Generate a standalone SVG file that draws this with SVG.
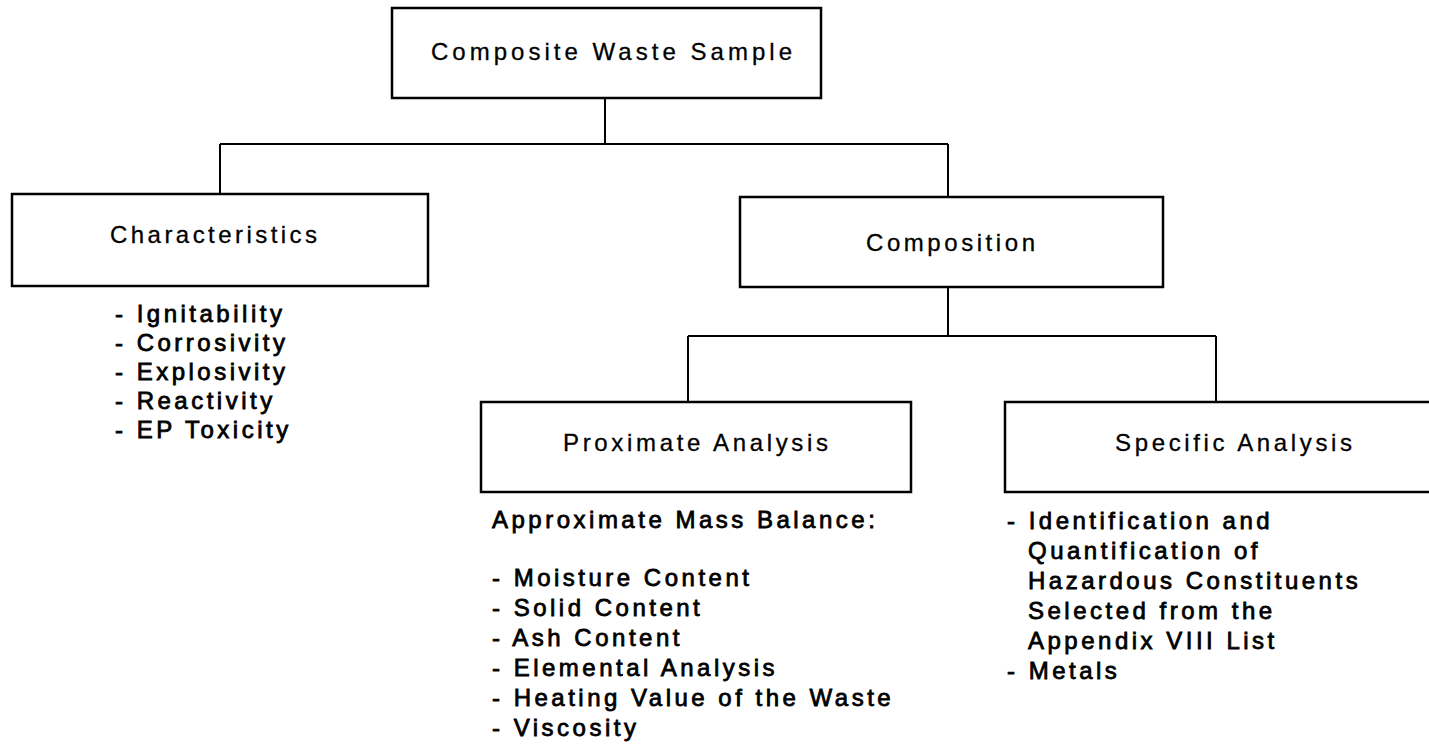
<svg xmlns="http://www.w3.org/2000/svg" width="1429" height="745" viewBox="0 0 1429 745">
  <style>
    .box { fill: #fff; stroke: #000; stroke-width: 2.5; }
    .wire { fill: none; stroke: #000; stroke-width: 2; }
    .title { font-family: "Liberation Sans", Arial, sans-serif; font-size: 24px; fill: #000; stroke: #000; stroke-width: 0.3; }
    .item { font-family: "Liberation Sans", Arial, sans-serif; font-size: 24px; letter-spacing: 3.5px; fill: #000; stroke: #000; stroke-width: 0.8; }
  </style>
  <rect width="1429" height="745" fill="#fff"/>

  <!-- connectors -->
  <g id="connectors">
    <path class="wire" d="M605 98 V144 M220 144 H948 M220 144 V194 M948 144 V197"/>
    <path class="wire" d="M948 287 V336 M688 336 H1216 M688 336 V402 M1216 336 V402"/>
  </g>

  <g id="composite-waste-sample">
    <rect class="box" x="392" y="8" width="429" height="90"/>
    <text class="title" x="431" y="60" textLength="361" lengthAdjust="spacing">Composite Waste Sample</text>
  </g>

  <g id="characteristics">
    <rect class="box" x="12" y="194" width="416" height="92"/>
    <text class="title" x="110" y="243" textLength="207" lengthAdjust="spacing">Characteristics</text>
    <text class="item" x="115" y="322">- Ignitability</text>
    <text class="item" x="115" y="351">- Corrosivity</text>
    <text class="item" x="115" y="380">- Explosivity</text>
    <text class="item" x="115" y="409">- Reactivity</text>
    <text class="item" x="115" y="438">- EP Toxicity</text>
  </g>

  <g id="composition">
    <rect class="box" x="740" y="197" width="423" height="90"/>
    <text class="title" x="866" y="251" textLength="169" lengthAdjust="spacing">Composition</text>
  </g>

  <g id="proximate-analysis">
    <rect class="box" x="481" y="402" width="430" height="90"/>
    <text class="title" x="563" y="451" textLength="265" lengthAdjust="spacing">Proximate Analysis</text>
    <text class="item" x="492" y="528">Approximate Mass Balance:</text>
    <text class="item" x="492" y="586">- Moisture Content</text>
    <text class="item" x="492" y="616">- Solid Content</text>
    <text class="item" x="492" y="646">- Ash Content</text>
    <text class="item" x="492" y="676">- Elemental Analysis</text>
    <text class="item" x="492" y="706">- Heating Value of the Waste</text>
    <text class="item" x="492" y="736">- Viscosity</text>
  </g>

  <g id="specific-analysis">
    <rect class="box" x="1005" y="402" width="440" height="90"/>
    <text class="title" x="1115" y="451" textLength="237" lengthAdjust="spacing">Specific Analysis</text>
    <text class="item" x="1007" y="529">- Identification and</text>
    <text class="item" x="1028" y="559">Quantification of</text>
    <text class="item" x="1028" y="589">Hazardous Constituents</text>
    <text class="item" x="1028" y="619">Selected from the</text>
    <text class="item" x="1028" y="649">Appendix VIII List</text>
    <text class="item" x="1007" y="679">- Metals</text>
  </g>
</svg>
